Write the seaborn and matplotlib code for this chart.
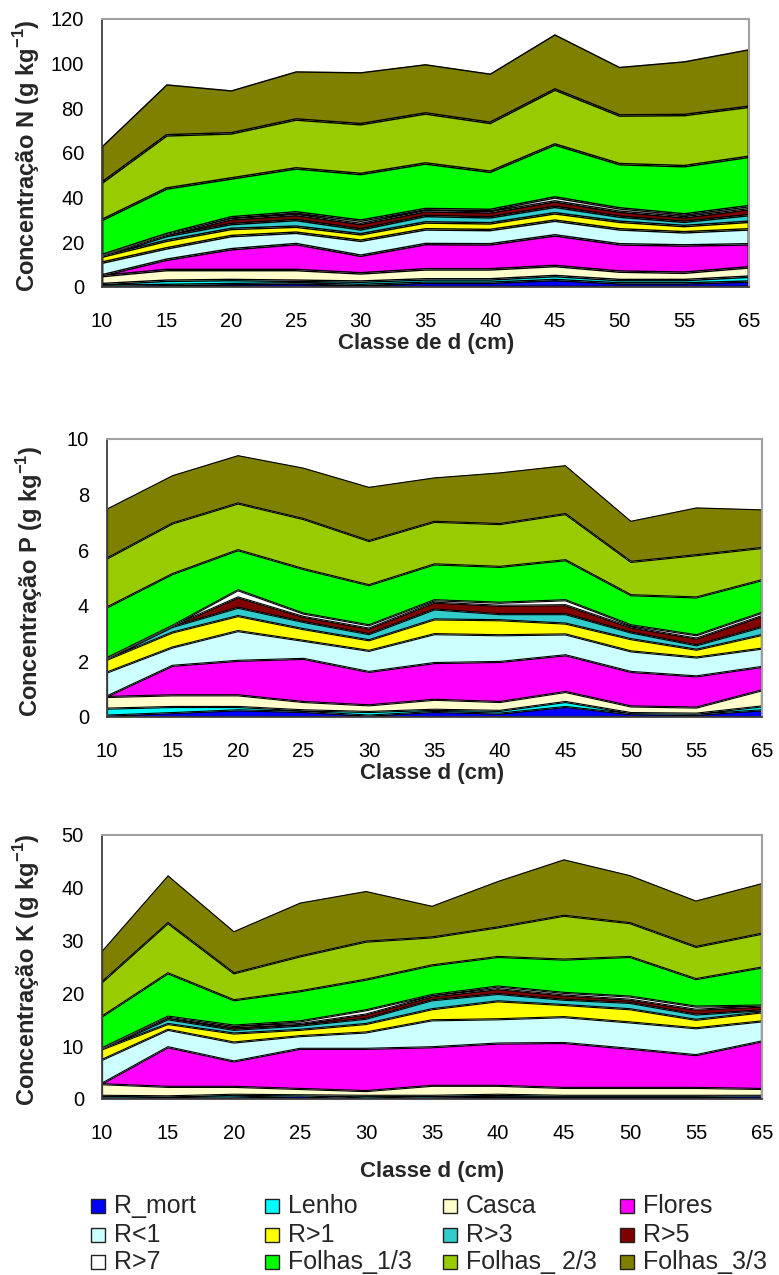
import matplotlib
matplotlib.use("Agg")
import matplotlib.pyplot as plt
from matplotlib.patches import Rectangle
import numpy as np
import pandas as pd
import seaborn as sns
import seaborn.objects as so

# ---------------------------------------------------------------------------
# Categories and components
# ---------------------------------------------------------------------------
classes = ["10", "15", "20", "25", "30", "35", "40", "45", "50", "55", "65"]
components = ["R_mort", "Lenho", "Casca", "Flores", "R<1", "R>1", "R>3", "R>5",
              "R>7", "Folhas_1/3", "Folhas_ 2/3", "Folhas_3/3"]
colors = ["#0000FF", "#00FFFF", "#FFFFCC", "#FF00FF", "#CCFFFF", "#FFFF00",
          "#33CCCC", "#800000", "#FFFFFF", "#00FF00", "#99CC00", "#808000"]

# ---------------------------------------------------------------------------
# Nitrogen (g kg-1) per component and diameter class
# ---------------------------------------------------------------------------
n_r_mort = [0.5, 0.9, 1.3, 1.6, 0.9, 1.9, 1.9, 3.1, 1.6, 1.6, 2.4]
n_lenho = [0.8, 1.9, 1.8, 1.2, 1.5, 1.5, 1.5, 1.8, 1.5, 1.5, 2.2]
n_casca = [3.6, 4.8, 4.5, 4.8, 3.7, 4.5, 4.5, 4.5, 3.8, 3.3, 4.2]
n_flores = [0.3, 4.6, 9.3, 11.6, 7.9, 11.3, 11.2, 13.7, 12.2, 12.2, 10.3]
n_r_lt1 = [5.7, 5.1, 5.9, 5.1, 6.7, 6.6, 6.4, 6.6, 6.7, 5.9, 6.7]
n_r_gt1 = [2.7, 3.4, 3.2, 2.7, 2.9, 3.1, 3.0, 3.3, 3.4, 2.8, 3.4]
n_r_gt3 = [0.3, 2.1, 2.2, 3.0, 2.2, 2.9, 2.7, 2.9, 2.3, 1.9, 3.0]
n_r_gt5 = [0.2, 0.5, 2.1, 2.2, 2.4, 2.1, 2.2, 2.4, 2.2, 2.0, 2.6]
n_r_gt7 = [0.2, 0.4, 0.9, 1.2, 1.5, 1.0, 1.1, 1.8, 1.5, 1.3, 1.4]
n_folhas_1 = [15.7, 20.4, 17.4, 19.7, 20.9, 20.4, 17.1, 23.7, 19.8, 21.6, 22.1]
n_folhas_2 = [16.7, 23.8, 20.2, 21.9, 22.3, 22.4, 21.9, 24.6, 21.8, 22.9, 22.4]
n_folhas_3 = [16.4, 22.9, 19.3, 21.6, 23.3, 22.1, 22.1, 24.8, 21.8, 24.1, 25.8]

# ---------------------------------------------------------------------------
# Phosphorus (g kg-1)
# ---------------------------------------------------------------------------
p_r_mort = [0.05, 0.14, 0.24, 0.18, 0.05, 0.18, 0.12, 0.36, 0.10, 0.08, 0.24]
p_lenho = [0.25, 0.22, 0.12, 0.06, 0.13, 0.08, 0.10, 0.18, 0.04, 0.04, 0.14]
p_casca = [0.42, 0.42, 0.42, 0.30, 0.24, 0.36, 0.32, 0.36, 0.24, 0.22, 0.58]
p_flores = [0.02, 1.06, 1.24, 1.55, 1.20, 1.32, 1.44, 1.32, 1.24, 1.12, 0.84]
p_r_lt1 = [0.86, 0.66, 1.07, 0.65, 0.76, 1.04, 0.96, 0.75, 0.74, 0.68, 0.66]
p_r_gt1 = [0.46, 0.54, 0.54, 0.42, 0.38, 0.53, 0.54, 0.39, 0.44, 0.28, 0.49]
p_r_gt3 = [0.02, 0.20, 0.30, 0.26, 0.22, 0.36, 0.22, 0.34, 0.24, 0.16, 0.29]
p_r_gt5 = [0.02, 0.02, 0.37, 0.18, 0.20, 0.24, 0.30, 0.32, 0.18, 0.24, 0.39]
p_r_gt7 = [0.02, 0.02, 0.26, 0.12, 0.12, 0.09, 0.11, 0.18, 0.08, 0.12, 0.12]
p_folhas_1 = [1.82, 1.86, 1.44, 1.60, 1.44, 1.29, 1.29, 1.44, 1.08, 1.36, 1.17]
p_folhas_2 = [1.76, 1.82, 1.68, 1.80, 1.59, 1.53, 1.54, 1.66, 1.20, 1.52, 1.16]
p_folhas_3 = [1.80, 1.74, 1.74, 1.85, 1.95, 1.60, 1.86, 1.76, 1.48, 1.72, 1.39]

# ---------------------------------------------------------------------------
# Potassium (g kg-1)
# ---------------------------------------------------------------------------
k_r_mort = [0.3, 0.15, 0.3, 0.5, 0.1, 0.3, 0.4, 0.4, 0.4, 0.4, 0.5]
k_lenho = [0.3, 0.35, 0.5, 0.2, 0.5, 0.3, 0.4, 0.2, 0.2, 0.2, 0.1]
k_casca = [2.2, 1.8, 1.5, 1.2, 0.9, 1.9, 1.7, 1.5, 1.5, 1.5, 1.3]
k_flores = [0.1, 7.5, 4.8, 7.6, 8.0, 7.3, 8.0, 8.5, 7.4, 6.2, 9.0]
k_r_lt1 = [4.5, 3.3, 3.6, 2.4, 3.1, 5.1, 4.6, 4.9, 5.0, 5.1, 3.8]
k_r_gt1 = [2.0, 1.1, 1.7, 1.2, 1.6, 2.1, 3.4, 2.3, 2.5, 1.6, 1.7]
k_r_gt3 = [0.1, 0.9, 0.7, 0.8, 1.0, 1.7, 1.4, 1.0, 1.2, 1.0, 0.4]
k_r_gt5 = [0.05, 0.3, 0.5, 0.3, 0.8, 0.7, 0.9, 0.8, 0.6, 0.9, 0.7]
k_r_gt7 = [0.05, 0.2, 0.3, 0.5, 0.8, 0.3, 0.5, 0.5, 0.6, 0.6, 0.2]
k_folhas_1 = [6.0, 8.2, 4.8, 5.7, 5.8, 5.6, 5.6, 6.3, 7.5, 5.2, 7.2]
k_folhas_2 = [6.5, 9.5, 5.1, 6.6, 7.2, 5.3, 5.6, 8.3, 6.4, 6.1, 6.4]
k_folhas_3 = [6.0, 9.1, 8.0, 10.2, 9.6, 6.0, 8.8, 10.7, 9.1, 8.8, 9.6]

n_layers = [n_r_mort, n_lenho, n_casca, n_flores, n_r_lt1, n_r_gt1, n_r_gt3,
            n_r_gt5, n_r_gt7, n_folhas_1, n_folhas_2, n_folhas_3]
p_layers = [p_r_mort, p_lenho, p_casca, p_flores, p_r_lt1, p_r_gt1, p_r_gt3,
            p_r_gt5, p_r_gt7, p_folhas_1, p_folhas_2, p_folhas_3]
k_layers = [k_r_mort, k_lenho, k_casca, k_flores, k_r_lt1, k_r_gt1, k_r_gt3,
            k_r_gt5, k_r_gt7, k_folhas_1, k_folhas_2, k_folhas_3]

# ---------------------------------------------------------------------------
# Style
# ---------------------------------------------------------------------------
sns.set_theme(style="white")
FONT = ["Liberation Sans", "DejaVu Sans"]
plt.rcParams["font.family"] = FONT
plt.rcParams["mathtext.fontset"] = "custom"
plt.rcParams["mathtext.rm"] = "Liberation Sans"
plt.rcParams["mathtext.bf"] = "Liberation Sans:bold"

theme_rc = {"axes.facecolor": "white", "axes.grid": False,
            "font.family": FONT, "axes.edgecolor": "#404040"}

W, H = 779, 1275
fig = plt.figure(figsize=(W / 100, H / 100), dpi=100, facecolor="white")


def px_axes(left, top, right, bottom):
    return fig.add_axes([left / W, 1 - bottom / H, (right - left) / W, (bottom - top) / H])


def long_frame(layers):
    frames = [pd.DataFrame({"pos": np.arange(len(classes)), "comp": name, "value": vals})
              for name, vals in zip(components, layers)]
    return pd.concat(frames, ignore_index=True)


def draw_panel(box, layers, ymax, ystep, edge_w, xpad, ylabel, xlabel, xlabel_pos, ylabel_x):
    ax = px_axes(*box)
    (
        so.Plot(long_frame(layers), x="pos", y="value", color="comp")
        .add(so.Area(alpha=1, edgecolor="black", edgewidth=edge_w), so.Stack(), legend=False)
        .scale(color=so.Nominal(colors, order=components))
        .theme(theme_rc)
        .on(ax)
        .plot()
    )
    ax.set_facecolor("white")
    ax.grid(False)
    ax.set_xlim(0, len(classes) - 1)
    ax.set_ylim(0, ymax)
    ax.set_xticks(np.arange(len(classes)), labels=classes)
    yt = np.arange(0, ymax + ystep / 2, ystep)
    ax.set_yticks(yt, labels=[f"{v:g}" for v in yt])
    ax.set_xlabel("")
    ax.set_ylabel("")
    for lab in ax.get_xticklabels() + ax.get_yticklabels():
        lab.set_fontfamily(FONT)
        lab.set_fontsize(14.5)
        lab.set_color("black")
    ax.tick_params(axis="x", direction="out", length=5, width=1.2, color="#404040", pad=xpad)
    ax.tick_params(axis="y", direction="out", length=4.5, width=1.2, color="#404040", pad=8.5)
    for side in ("left", "bottom"):
        ax.spines[side].set_color("#404040")
        ax.spines[side].set_linewidth(1.3)
        ax.spines[side].set_visible(True)
    for side in ("top", "right"):
        ax.spines[side].set_color("#A0A0A0")
        ax.spines[side].set_linewidth(1.5)
        ax.spines[side].set_visible(True)
    top, bottom = box[1], box[3]
    fig.text(xlabel_pos[0] / W, 1 - xlabel_pos[1] / H, xlabel, ha="center", va="center",
             fontsize=16, fontweight="bold", family=FONT)
    fig.text(ylabel_x / W, 1 - ((top + bottom) / 2 + 3) / H, ylabel, ha="center", va="center",
             rotation=90, fontsize=17, fontweight="bold", family=FONT)
    return ax


sup = r"$^{\mathbf{-1}}$"
draw_panel((102, 19, 749, 287), n_layers, 120, 20, 1.0, 13,
           "Concentração N (g kg" + sup + ")", "Classe de d (cm)", (426, 343), 27)
draw_panel((107, 439, 762, 717), p_layers, 10, 2, 0.8, 13,
           "Concentração P (g kg" + sup + ")", "Classe d (cm)", (432, 773), 30)
draw_panel((102, 835, 762, 1099), k_layers, 50, 10, 0.8, 13,
           "Concentração K (g kg" + sup + ")", "Classe d (cm)", (432, 1172), 27)

# Legend: four columns, filled row by row
lax = fig.add_axes([0, 0, 1, 1])
lax.set_xlim(0, W)
lax.set_ylim(H, 0)
lax.axis("off")
col_x = [91, 265, 443, 620]
row_y = [1206, 1235, 1262]
for i, (name, color) in enumerate(zip(components, colors)):
    r, c = divmod(i, 4)
    lax.add_patch(Rectangle((col_x[c], row_y[r] - 7), 14, 14, facecolor=color,
                            edgecolor="#202020", linewidth=1.0))
    lax.text(col_x[c] + 23, row_y[r], name, ha="left", va="center", fontsize=18, family=FONT)

fig.savefig("out.png", dpi=100, facecolor="white")
